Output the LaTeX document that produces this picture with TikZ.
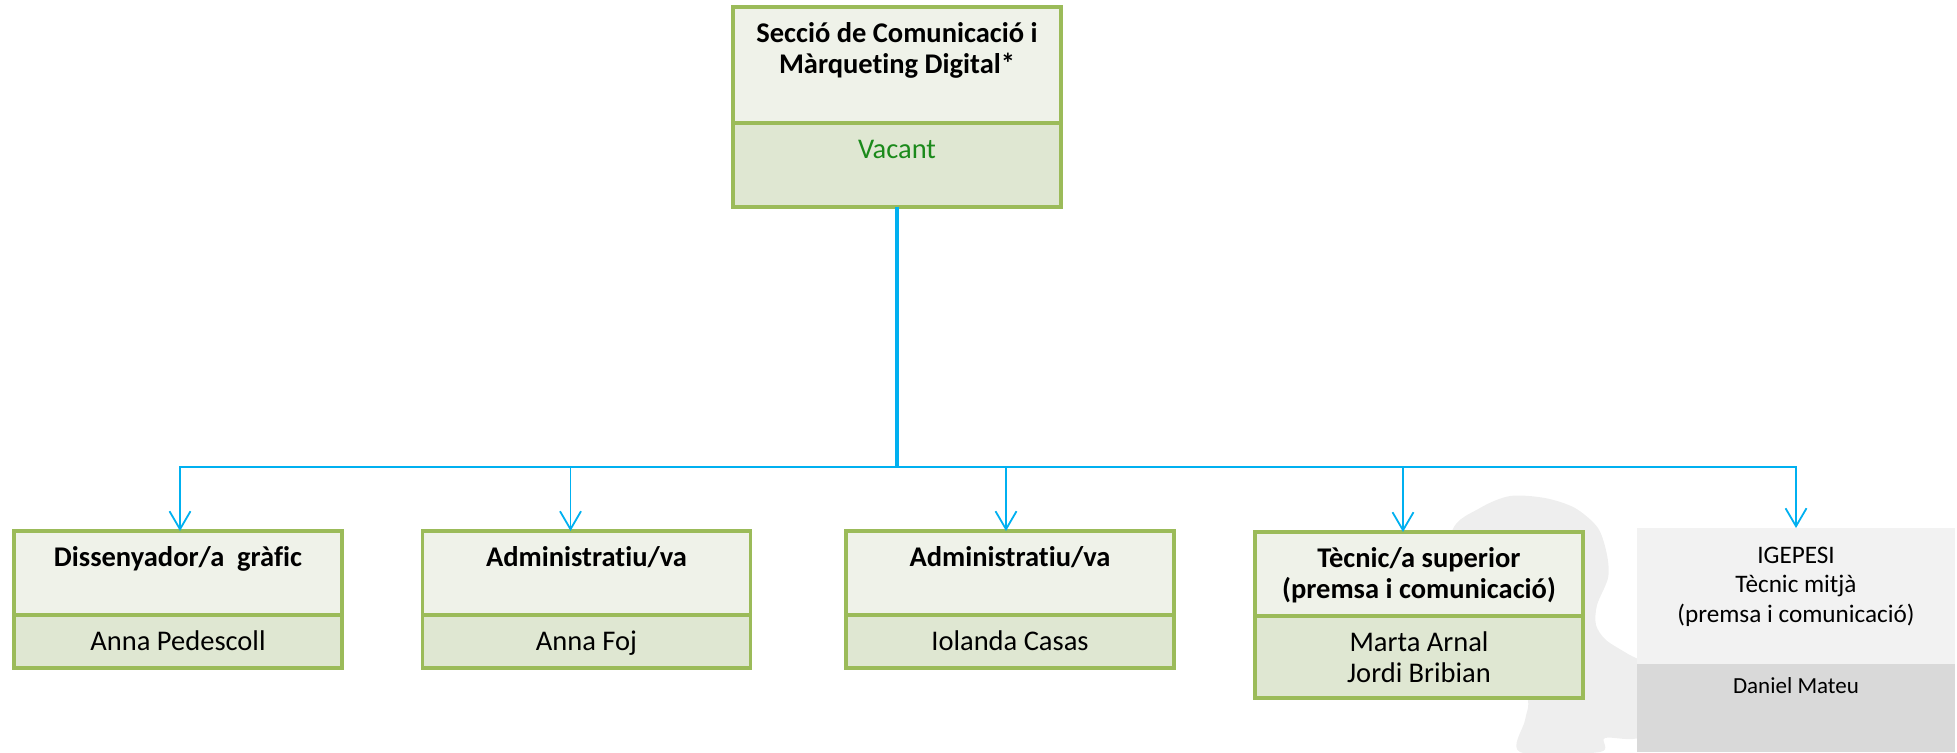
\documentclass[tikz,border=0pt]{standalone}
\usepackage{fontspec}
\setmainfont[Ligatures=NoCommon]{Carlito}
\usepackage{xcolor}
\usepackage{tikz}
\usetikzlibrary{arrows.meta,positioning}
\definecolor{boxline}{HTML}{9BBB59}
\definecolor{boxtop}{HTML}{EFF2E9}
\definecolor{boxbottom}{HTML}{DFE7D2}
\definecolor{vacant}{HTML}{1B8A1B}
\definecolor{linkblue}{HTML}{00B0F0}
\definecolor{igetop}{HTML}{F2F2F2}
\definecolor{igebottom}{HTML}{D9D9D9}
\definecolor{wmark}{HTML}{EEEEEE}
\tikzset{
	basic/.style = {draw=boxline, line width=1.6pt, inner ysep=0pt, outer sep=0pt, align=center, text height=17.5pt, minimum width=164pt},
	root/.style = {basic, fill=boxtop, text height=33pt, text depth=25pt, font=\bfseries\fontsize{14.25}{15.5}\selectfont},
	root name/.style = {basic, fill=boxbottom, text depth=24.5pt, text=vacant, font=\fontsize{14.25}{15.5}\selectfont},
	post/.style = {basic, fill=boxtop, text depth=24.5pt, font=\bfseries\fontsize{14.25}{15.5}\selectfont},
	person/.style = {basic, fill=boxbottom, text depth=9pt, font=\fontsize{14.25}{15.5}\selectfont},
	ige/.style = {fill=igetop, inner ysep=0pt, outer sep=0pt, align=center, minimum width=159pt, text height=47pt, text depth=21pt, font=\fontsize{12.6}{14.75}\selectfont},
	ige name/.style = {ige, fill=igebottom, text height=14.5pt, text depth=29.5pt, font=\fontsize{11.5}{14}\selectfont},
	link/.style = {draw=linkblue, line width=0.9pt}
}
\begin{document}
\begin{tikzpicture}[x=0.5pt, y=-0.5pt,
		>={Straight Barb[length=9pt, width=10.5pt]}]
		\useasboundingbox (0,0) rectangle (1957,752);
		
		% grey watermark behind the right boxes
		\fill[wmark] plot[smooth cycle] coordinates {(1452,531) (1480,508) (1510,496) (1545,498) (1575,508) (1598,528) (1607,555) (1608,578) (1597,605) (1596,625) (1606,640) (1628,654) (1645,665) (1660,700) (1640,737) (1605,738) (1600,752) (1520,752) (1525,720) (1527,697) (1500,650) (1450,600)};
		
		% head of the section
		\node[root, anchor=north] (root) at (897,7) {Secció de Comunicació i\\Màrqueting Digital*};
		\node[root name, below=0pt of root] (rootn) {Vacant};
		
		% posts, level 2
		\node[post, anchor=north] (c1) at (178,531) {Dissenyador/a~ gràfic};
		\node[post, anchor=north] (c2) at (586.5,531) {Administratiu/va};
		\node[post, anchor=north] (c3) at (1010,531) {Administratiu/va};
		\node[post, anchor=north, text height=33pt, text depth=9pt] (c4) at (1419,532) {Tècnic/a superior\\(premsa i comunicació)};
		\node[ige, anchor=north] (c5) at (1796,528) {IGEPESI\\Tècnic mitjà\\(premsa i comunicació)};
		
		% people in each post
		\node[person, below=0pt of c1] (n1) {Anna Pedescoll};
		\node[person, below=0pt of c2] (n2) {Anna Foj};
		\node[person, below=0pt of c3] (n3) {Iolanda Casas};
		\node[person, below=0pt of c4, text height=33pt, text depth=8pt] (n4) {Marta Arnal\\Jordi Bribian};
		\node[ige name, below=0pt of c5] (n5) {Daniel Mateu};
		
		% lines from the head to every post
		\coordinate (bus) at (897,467);
		\draw[link, line width=1.6pt] (rootn) -- (bus);
		\foreach \value/\dx in {1/1,2/-8,3/-2,4/-8,5/0}
		\draw[link, ->] (bus) -| ([xshift=\dx pt]c\value.north);
	\end{tikzpicture}
\end{document}
